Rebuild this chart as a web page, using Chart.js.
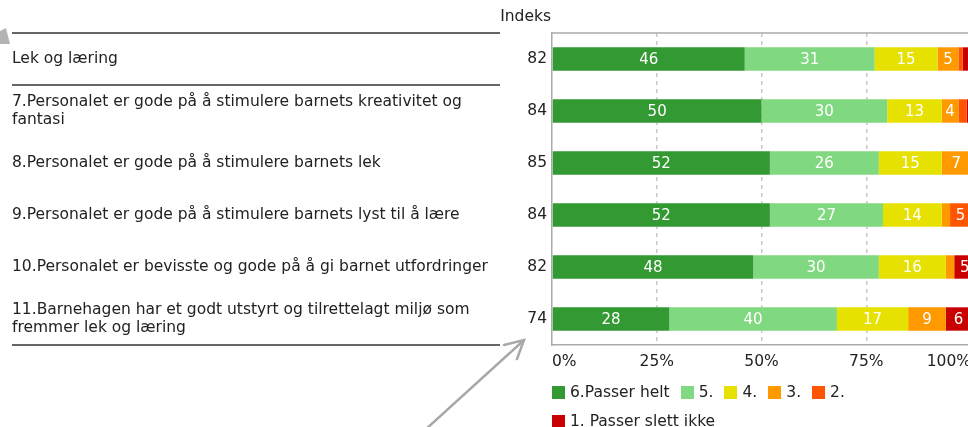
<!DOCTYPE html>
<html>
<head>
<meta charset="utf-8">
<script src="https://cdn.jsdelivr.net/npm/chart.js@4.4.1/dist/chart.umd.min.js"></script>
<style>
    html, body { margin: 0; padding: 0; background: #fff; overflow: hidden; }
    body { width: 968px; height: 427px; position: relative; font-family: "DejaVu Sans", Verdana, sans-serif; }
    #wrap { position: absolute; left: 0; top: 0; width: 1000px; height: 380px; }
    #legend { position: absolute; left: 552px; top: 378px; width: 420px; display: flex; flex-wrap: wrap; font-size: 15.5px; color: #222; line-height: 29px; }
    #legend .item { display: flex; align-items: center; margin-right: 11px; white-space: nowrap; }
    #legend .box { width: 13px; height: 13px; margin-right: 5px; }
    #arrows { position: absolute; left: 0; top: 0; pointer-events: none; }
</style>
</head>
<body>
<div id="wrap"><canvas id="indeksChart"></canvas></div>
<div id="legend"></div>
<svg id="arrows" width="968" height="427">
    <polygon points="0,31 6,28 10,44 0,44" fill="#b4b4b4"/>
    <g stroke="#a8a8a8" stroke-width="2.5" fill="none" stroke-linecap="round">
        <line x1="425" y1="430" x2="523" y2="341"/>
        <polyline points="504,345 524,340 517,359"/>
    </g>
</svg>

<script>
// kategorier (spørsmål) og indeks
const categories = [
    ['Lek og læring'],
    ['7.Personalet er gode på å stimulere barnets kreativitet og', 'fantasi'],
    ['8.Personalet er gode på å stimulere barnets lek'],
    ['9.Personalet er gode på å stimulere barnets lyst til å lære'],
    ['10.Personalet er bevisste og gode på å gi barnet utfordringer'],
    ['11.Barnehagen har et godt utstyrt og tilrettelagt miljø som', 'fremmer lek og læring']
];
const indeks = [82, 84, 85, 84, 82, 74];

// andel svar i prosent per svaralternativ
const seriesNames = ['6.Passer helt', '5.', '4.', '3.', '2.', '1. Passer slett ikke'];
const seriesColors = ['#339933', '#80d880', '#e6e100', '#ff9900', '#ff5500', '#c80000'];
const passerHelt = [46, 50, 52, 52, 48, 28];
const svar5 = [31, 30, 26, 27, 30, 40];
const svar4 = [15, 13, 15, 14, 16, 17];
const svar3 = [5, 4, 7, 2, 2, 9];
const svar2 = [1, 2, 0, 5, 0, 0];
const passerSlettIkke = [2, 1, 0, 0, 5, 6];
const seriesValues = [passerHelt, svar5, svar4, svar3, svar2, passerSlettIkke];

const xTicks = [0, 25, 50, 75, 100];

const fontFamily = '"DejaVu Sans", Verdana, sans-serif';
const fontSize = 15.5;
const textColor = '#222';

// tall inne i søylene + skillelinjer + "Indeks"
const decorPlugin = {
    id: 'decor',
    afterDraw(chart) {
        const ctx = chart.ctx;
        const area = chart.chartArea;
        const y = chart.scales.y;
        const step = (area.bottom - area.top) / categories.length;

        ctx.save();
        // ramme øverst
        ctx.strokeStyle = '#aaaaaa';
        ctx.lineWidth = 1.5;
        ctx.beginPath();
        ctx.moveTo(area.left, area.top);
        ctx.lineTo(area.right, area.top);
        ctx.stroke();

        // skillelinjer i venstre del
        ctx.strokeStyle = '#666';
        ctx.lineWidth = 2;
        const lines = [area.top, y.getPixelForValue(0) + step / 2, area.bottom];
        lines.forEach(ly => {
            ctx.beginPath();
            ctx.moveTo(12, ly);
            ctx.lineTo(500, ly);
            ctx.stroke();
        });

        // overskrift
        ctx.fillStyle = textColor;
        ctx.font = fontSize + 'px ' + fontFamily;
        ctx.textAlign = 'right';
        ctx.textBaseline = 'middle';
        ctx.fillText('Indeks', area.left - 1, 17);

        // verdier i søylene
        ctx.fillStyle = '#fff';
        ctx.font = '15px ' + fontFamily;
        ctx.textAlign = 'center';
        chart.data.datasets.forEach((ds, di) => {
            chart.getDatasetMeta(di).data.forEach((bar, i) => {
                const v = ds.data[i];
                if (v < 4) return;
                ctx.fillText(String(v), (bar.x + bar.base) / 2, bar.y + 1);
            });
        });
        ctx.restore();
    }
};

function buildLegend() {
    const legend = document.getElementById('legend');
    seriesNames.forEach((name, i) => {
        const item = document.createElement('div');
        item.className = 'item';
        item.innerHTML = '<span class="box" style="background:' + seriesColors[i] + '"></span>' + name;
        legend.appendChild(item);
    });
}

const datasets = seriesNames.map((name, i) => ({
    label: name,
    data: seriesValues[i],
    backgroundColor: seriesColors[i],
    borderWidth: 0,
    categoryPercentage: 1,
    barPercentage: 0.45
}));

new Chart(document.getElementById('indeksChart'), {
    type: 'bar',
    data: {
        labels: categories,
        datasets: datasets
    },
    options: {
        indexAxis: 'y',
        responsive: true,
        maintainAspectRatio: false,
        animation: false,
        layout: {
            padding: { top: 33, left: 12, right: 29, bottom: 0 }
        },
        scales: {
            x: {
                stacked: true,
                min: 0,
                max: 100,
                afterBuildTicks: scale => {
                    scale.ticks = xTicks.map(v => ({ value: v }));
                },
                afterFit: scale => { scale.height = 35; },
                ticks: {
                    align: 'inner',
                    padding: 8,
                    color: textColor,
                    font: { family: fontFamily, size: fontSize },
                    callback: v => v + '%'
                },
                grid: {
                    drawTicks: false,
                    lineWidth: 1.5,
                    color: ctx => (ctx.tick && (ctx.tick.value === 0 || ctx.tick.value === 100)) ? 'rgba(0,0,0,0)' : '#c8c8c8'
                },
                border: {
                    display: true,
                    color: '#aaaaaa',
                    width: 1.5,
                    dash: [4, 4]
                }
            },
            y: {
                stacked: true,
                offset: true,
                weight: 0,
                afterFit: scale => { scale.width = 52; },
                ticks: {
                    autoSkip: false,
                    padding: 5,
                    color: textColor,
                    font: { family: fontFamily, size: fontSize },
                    callback: (v, i) => String(indeks[i])
                },
                grid: { display: false, drawTicks: false },
                border: { display: true, color: '#aaaaaa', width: 1.5 }
            },
            yText: {
                type: 'category',
                position: 'left',
                labels: categories,
                offset: true,
                weight: 1,
                afterFit: scale => { scale.width = 488; },
                ticks: {
                    autoSkip: false,
                    crossAlign: 'far',
                    padding: 0,
                    color: textColor,
                    font: { family: fontFamily, size: fontSize, lineHeight: 1.16 }
                },
                grid: { display: false, drawTicks: false },
                border: { display: false }
            }
        },
        plugins: {
            legend: { display: false },
            tooltip: { enabled: false }
        }
    },
    plugins: [decorPlugin]
});

buildLegend();
</script>
</body>
</html>
